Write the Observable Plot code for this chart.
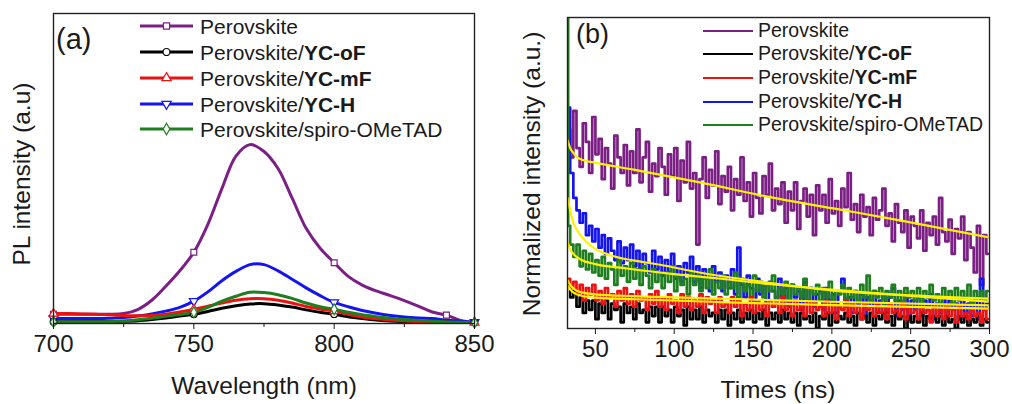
<!DOCTYPE html>
<html><head><meta charset="utf-8">
<script src="https://cdn.jsdelivr.net/npm/d3@7"></script>
<script src="https://cdn.jsdelivr.net/npm/@observablehq/plot@0.6"></script>
<style>
body{margin:0;background:#fff;font-family:"Liberation Sans",Arial,sans-serif;}
#wrap{position:relative;width:1012px;height:404px;overflow:hidden;background:#fff;}
.panel{position:absolute;top:0;}
.lab{position:absolute;color:#1a1a1a;white-space:nowrap;line-height:1;}
.ylab{transform:translate(-50%,-50%) rotate(-90deg);}
.xlab{transform:translate(-50%,-50%);}
.tag{transform:translateY(-50%);}
.row{position:absolute;white-space:nowrap;display:flex;align-items:center;height:24px;color:#1a1a1a;line-height:1;}
.row b{font-weight:bold;}
</style></head>
<body><div id="wrap"></div>
<script>
// ---------- Panel (a): steady-state PL ----------
const seriesNames = ["Perovskite", "Perovskite/YC-oF", "Perovskite/YC-mF", "Perovskite/YC-H", "Perovskite/spiro-OMeTAD"];
const seriesPlain = ["Perovskite", "Perovskite/", "Perovskite/", "Perovskite/", "Perovskite/spiro-OMeTAD"];
const seriesBold = ["", "YC-oF", "YC-mF", "YC-H", ""];
const seriesColors = ["#7b1f84", "#000000", "#ee1111", "#1414ee", "#1f7f1f"];
const seriesSymbols = ["square", "circle", "triangle", "triangle", "diamond"];
const seriesRotate = [0, 0, 0, 180, 0];

const wavelengths = [700,705,710,715,720,725,730,735,740,745,750,755,760,765,770,775,780,785,790,795,800,805,810,815,820,825,830,835,840,845,850];
const plPerovskite = [30,30,30,30,30,32,45,75,120,170,230,320,435,540,577,555,500,405,307,243,196,152,124,105,90,74,56,37,27,10,3];
const plYCoF       = [6,6,6,6,6,7,9,13,18,24,30,39,49,57,63,64,60,53,44,36,30,22,16,11,8,6,5,4,4,3,3];
const plYCmF       = [32,32,31,30,28,26,25,26,30,37,46,56,66,75,80,80,75,66,55,47,40,30,21,15,11,8,6,5,4,3,3];
const plYCH        = [16,16,16,16,17,19,24,31,40,52,72,102,138,168,190,190,170,143,115,90,68,54,42,33,26,21,18,16,11,7,4];
const plSpiro      = [5,5,5,5,6,8,12,17,23,29,36,52,72,88,101,100,93,81,66,54,46,36,28,22,17,13,10,7,5,4,3];
const plSeries = [plPerovskite, plYCoF, plYCmF, plYCH, plSpiro];
const markerWavelengths = [[700,750,800,840],[700,750,800,850],[700,750,800,850],[700,750,800,850],[700,750,800,850]];
const xTicksA = [700, 750, 800, 850];
const xMinorA = [725, 775, 825];

// ---------- Panel (b): TRPL ----------
const timeStart = 33, timeStep = 2; // sampling grid of the decay traces (ns)
const trPerovskite = [
0.64,0.55,0.70,0.58,0.52,0.66,0.60,0.50,0.68,0.56,
0.61,0.48,0.58,0.53,0.45,0.62,0.55,0.50,0.59,0.46,
0.57,0.50,0.64,0.47,0.55,0.60,0.44,0.53,0.49,0.58,
0.52,0.43,0.56,0.49,0.58,0.41,0.54,0.47,0.60,0.45,
0.50,0.27,0.48,0.55,0.42,0.51,0.46,0.57,0.40,0.49,
0.44,0.52,0.38,0.48,0.43,0.55,0.41,0.47,0.36,0.50,
0.42,0.37,0.49,0.43,0.53,0.38,0.45,0.40,0.47,0.34,
0.44,0.38,0.47,0.32,0.41,0.45,0.36,0.43,0.30,0.46,
0.38,0.43,0.34,0.48,0.37,0.41,0.33,0.45,0.39,0.50,
0.35,0.40,0.31,0.43,0.36,0.39,0.30,0.42,0.35,0.38,
0.45,0.33,0.37,0.28,0.40,0.34,0.31,0.38,0.26,0.36,
0.33,0.29,0.38,0.25,0.34,0.30,0.36,0.27,0.42,0.31,
0.28,0.35,0.24,0.32,0.29,0.36,0.22,0.31,0.26,0.18,
0.33,0.14,0.30,0.24];
const trYCoF = [
0.14,0.10,0.12,0.07,0.10,0.05,0.09,0.06,0.09,0.03,
0.08,0.05,0.09,0.03,0.08,0.06,0.07,0.02,0.08,0.05,
0.07,0.03,0.08,0.05,0.06,0.02,0.07,0.04,0.07,0.02,
0.07,0.04,0.06,0.02,0.07,0.04,0.06,0.01,0.07,0.03,
0.06,0.03,0.07,0.02,0.06,0.04,0.05,0.02,0.06,0.03,
0.06,0.01,0.05,0.03,0.06,0.02,0.05,0.03,0.06,0.02,
0.05,0.03,0.06,0.01,0.05,0.03,0.05,0.02,0.06,0.03,
0.05,0.02,0.05,0.01,0.05,0.03,0.04,0.02,0.05,0.00,
0.04,0.03,0.05,0.01,0.05,0.02,0.04,0.03,0.05,0.02,
0.04,0.01,0.05,0.03,0.04,0.02,0.05,0.01,0.04,0.03,
0.05,0.02,0.04,0.01,0.05,0.03,0.04,0.00,0.04,0.02,
0.04,0.02,0.05,0.01,0.04,0.03,0.04,0.02,0.04,0.01,
0.04,0.02,0.03,0.00,0.04,0.02,0.04,0.01,0.03,0.02,
0.04,0.01,0.03,0.02];
const trYCmF = [
0.16,0.13,0.15,0.11,0.14,0.09,0.13,0.11,0.14,0.09,
0.12,0.08,0.13,0.10,0.11,0.07,0.12,0.09,0.13,0.08,
0.11,0.07,0.12,0.09,0.10,0.06,0.11,0.08,0.12,0.07,
0.10,0.06,0.11,0.08,0.09,0.05,0.11,0.07,0.10,0.06,
0.09,0.07,0.11,0.05,0.10,0.08,0.09,0.05,0.10,0.07,
0.08,0.05,0.10,0.07,0.09,0.04,0.08,0.06,0.10,0.05,
0.09,0.06,0.08,0.04,0.09,0.07,0.08,0.05,0.10,0.06,
0.08,0.04,0.09,0.06,0.07,0.04,0.09,0.05,0.08,0.06,
0.07,0.04,0.09,0.05,0.08,0.03,0.07,0.06,0.09,0.04,
0.08,0.05,0.07,0.03,0.08,0.06,0.07,0.04,0.08,0.05,
0.07,0.03,0.08,0.05,0.06,0.04,0.08,0.03,0.07,0.05,
0.06,0.03,0.07,0.05,0.06,0.02,0.07,0.04,0.06,0.03,
0.07,0.04,0.06,0.02,0.07,0.04,0.05,0.03,0.06,0.04,
0.05,0.02,0.06,0.03];
const trYCH = [
0.71,0.50,0.42,0.38,0.34,0.37,0.30,0.33,0.28,0.32,
0.26,0.30,0.24,0.29,0.25,0.22,0.28,0.21,0.26,0.22,
0.27,0.20,0.25,0.19,0.24,0.21,0.18,0.25,0.19,0.23,
0.17,0.22,0.18,0.24,0.16,0.20,0.15,0.21,0.18,0.23,
0.15,0.20,0.13,0.19,0.16,0.12,0.20,0.15,0.18,0.12,
0.17,0.13,0.19,0.11,0.26,0.14,0.10,0.17,0.13,0.09,
0.16,0.11,0.14,0.08,0.15,0.12,0.09,0.16,0.10,0.13,
0.07,0.14,0.10,0.12,0.06,0.15,0.09,0.13,0.07,0.11,
0.12,0.06,0.13,0.09,0.11,0.05,0.12,0.16,0.07,0.10,
0.05,0.12,0.08,0.11,0.04,0.10,0.07,0.12,0.05,0.09,
0.11,0.05,0.10,0.13,0.04,0.09,0.06,0.11,0.03,0.09,
0.06,0.10,0.04,0.09,0.07,0.11,0.03,0.08,0.05,0.10,
0.04,0.09,0.06,0.08,0.03,0.10,0.05,0.08,0.04,0.09,
0.03,0.16,0.06,0.08];
const trSpiro = [
0.33,0.27,0.23,0.27,0.20,0.25,0.19,0.24,0.18,0.22,
0.17,0.23,0.16,0.21,0.19,0.14,0.22,0.17,0.20,0.15,
0.21,0.16,0.19,0.14,0.20,0.17,0.13,0.19,0.15,0.18,
0.13,0.18,0.15,0.20,0.12,0.17,0.14,0.16,0.11,0.18,
0.14,0.17,0.12,0.16,0.13,0.19,0.11,0.15,0.13,0.17,
0.11,0.15,0.13,0.18,0.10,0.16,0.12,0.14,0.10,0.17,
0.12,0.15,0.10,0.14,0.12,0.17,0.10,0.13,0.11,0.15,
0.09,0.14,0.11,0.13,0.10,0.16,0.09,0.13,0.11,0.14,
0.09,0.13,0.10,0.15,0.09,0.12,0.11,0.14,0.08,0.13,
0.10,0.12,0.09,0.14,0.10,0.17,0.09,0.12,0.10,0.13,
0.08,0.12,0.10,0.14,0.09,0.12,0.08,0.13,0.10,0.12,
0.09,0.13,0.08,0.12,0.10,0.14,0.09,0.11,0.08,0.13,
0.10,0.12,0.08,0.13,0.09,0.12,0.10,0.14,0.08,0.12,
0.10,0.12,0.09,0.12];
const spiroLeadT = 32.4, spiroLeadV = 1.0; // initial spike of the spiro trace at t0
const trSeries = [trPerovskite, trYCoF, trYCmF, trYCH, trSpiro];

const fitPerovskiteT = [32.4,34,36,38.5,43,48.7,75,117,159,201,244,300];
const fitPerovskiteV = [0.605,0.58,0.565,0.55,0.54,0.534,0.51,0.469,0.424,0.386,0.347,0.293];
const fitYCoFT = [32.4,34,37,40.6,50,75,129,200,300];
const fitYCoFV = [0.138,0.125,0.113,0.106,0.099,0.094,0.085,0.075,0.064];
const fitYCmFT = [32.4,34,37,40.6,50,75,129,200,300];
const fitYCmFV = [0.155,0.14,0.125,0.117,0.11,0.104,0.096,0.086,0.074];
const fitYCHT = [32.4,34,36,38.5,43,48.7,60,75,91,116,159,201,244,300];
const fitYCHV = [0.42,0.38,0.34,0.315,0.285,0.26,0.235,0.218,0.205,0.18,0.148,0.122,0.108,0.096];
const fitSpiroT = [32.4,34,37,40.6,50,70,100,130,160,200,250,300];
const fitSpiroV = [0.278,0.255,0.235,0.222,0.207,0.193,0.175,0.16,0.143,0.125,0.105,0.086];
const fitT = [fitPerovskiteT, fitYCoFT, fitYCmFT, fitYCHT, fitSpiroT];
const fitV = [fitPerovskiteV, fitYCoFV, fitYCmFV, fitYCHV, fitSpiroV];
const xTicksB = [50, 100, 150, 200, 250, 300];
const xMinorB = [75, 125, 175, 225, 275];

const FONT = '"Liberation Sans", Arial, sans-serif';
const wrap = document.getElementById("wrap");

// ----- build panel (a)
const rowsA = [];
plSeries.forEach((vals, i) => vals.forEach((v, j) => rowsA.push({s: i, x: wavelengths[j], y: v})));
const orderA = [0, 3, 1, 2, 4];
const marksA = [];
orderA.forEach(i => {
  const d = rowsA.filter(r => r.s === i);
  marksA.push(Plot.line(d, {x: "x", y: "y", stroke: seriesColors[i], strokeWidth: 3, curve: "catmull-rom", clip: true}));
});
orderA.forEach(i => {
  const d = rowsA.filter(r => r.s === i && markerWavelengths[i].includes(r.x));
  marksA.push(Plot.dot(d, {x: "x", y: "y", symbol: seriesSymbols[i], r: 3.3, fill: "white", stroke: seriesColors[i], strokeWidth: 1.2, rotate: seriesRotate[i]}));
});
const plotA = Plot.plot({
  width: 506, height: 404,
  marginLeft: 53, marginRight: 32, marginTop: 13, marginBottom: 81,
  style: {fontFamily: FONT, color: "#1a1a1a", background: "transparent", overflow: "visible"},
  x: {domain: [700, 850]},
  y: {domain: [0, 1000], axis: null},
  marks: [
    ...marksA,
    Plot.frame({stroke: "#222", strokeWidth: 1.4}),
    Plot.axisX({ticks: xTicksA, tickSize: 6, tickPadding: 5, fontSize: 24, label: null, tickFormat: d => String(d)}),
    Plot.axisX({ticks: xMinorA, tickSize: 4, tickFormat: () => "", label: null})
  ]
});
plotA.classList.add("panel");
plotA.style.left = "0px";
wrap.appendChild(plotA);

// ----- build panel (b)
const rowsB = [];
trSeries.forEach((vals, i) => {
  if (i === 4) rowsB.push({s: i, x: spiroLeadT, y: spiroLeadV});
  vals.forEach((v, j) => rowsB.push({s: i, x: timeStart + j * timeStep, y: v}));
});
const fitRows = [];
fitT.forEach((ts, i) => ts.forEach((t, j) => fitRows.push({s: i, x: t, y: fitV[i][j]})));
const orderB = [0, 3, 4, 1, 2];
const marksB = [];
orderB.forEach(i => {
  marksB.push(Plot.line(rowsB.filter(r => r.s === i), {x: "x", y: "y", stroke: seriesColors[i], strokeWidth: 2.7, curve: "step", clip: true}));
});
[0, 3, 4, 2, 1].forEach(i => {
  marksB.push(Plot.line(fitRows.filter(r => r.s === i), {x: "x", y: "y", stroke: "#fff200", strokeWidth: 2.2, curve: "monotone-x", clip: true}));
});
const plotB = Plot.plot({
  width: 506, height: 404,
  marginLeft: 61, marginRight: 23, marginTop: 17, marginBottom: 76,
  style: {fontFamily: FONT, color: "#1a1a1a", background: "transparent", overflow: "visible"},
  x: {domain: [32.3, 300]},
  y: {domain: [0, 1], axis: null},
  marks: [
    ...marksB,
    Plot.frame({stroke: "#222", strokeWidth: 1.4}),
    Plot.axisX({ticks: xTicksB, tickSize: 6, tickPadding: 5, fontSize: 24, label: null, tickFormat: d => String(d)}),
    Plot.axisX({ticks: xMinorB, tickSize: 4, tickFormat: () => "", label: null})
  ]
});
plotB.classList.add("panel");
plotB.style.left = "506px";
wrap.appendChild(plotB);

// ----- text labels
function addLabel(text, x, y, size, cls) {
  const el = document.createElement("div");
  el.className = "lab " + cls;
  el.textContent = text;
  el.style.left = x + "px";
  el.style.top = y + "px";
  el.style.fontSize = size + "px";
  wrap.appendChild(el);
}
addLabel("Wavelength (nm)", 264, 386, 24.5, "xlab");
addLabel("PL intensity (a.u)", 22, 174, 24.5, "ylab");
addLabel("Times (ns)", 778, 390, 24.5, "xlab");
addLabel("Normalized intensity (a.u.)", 532, 174, 24.5, "ylab");
addLabel("(a)", 56, 39, 29, "tag");
addLabel("(b)", 576, 34, 27, "tag");

// ----- legends
function addLegend(x0, sw, textX, ys, size, lw, withMarkers) {
  seriesNames.forEach((name, i) => {
    const row = document.createElement("div");
    row.className = "row";
    row.style.left = x0 + "px";
    row.style.top = (ys[i] - 12) + "px";
    row.style.fontSize = size + "px";
    const svg = d3.create("svg").attr("width", sw).attr("height", 24).style("flex", "none");
    svg.append("line").attr("x1", 0).attr("x2", sw).attr("y1", 12).attr("y2", 12)
      .attr("stroke", seriesColors[i]).attr("stroke-width", lw);
    if (withMarkers) {
      const typeMap = {square: d3.symbolSquare, circle: d3.symbolCircle, triangle: d3.symbolTriangle, diamond: d3.symbolDiamond};
      svg.append("path").attr("d", d3.symbol(typeMap[seriesSymbols[i]], 38)())
        .attr("transform", `translate(${sw / 2},12) rotate(${seriesRotate[i]})`)
        .attr("fill", "white").attr("stroke", seriesColors[i]).attr("stroke-width", 1.2);
    }
    row.appendChild(svg.node());
    const span = document.createElement("span");
    span.style.marginLeft = (textX - x0 - sw) + "px";
    span.appendChild(document.createTextNode(seriesPlain[i]));
    if (seriesBold[i]) {
      const b = document.createElement("b");
      b.textContent = seriesBold[i];
      span.appendChild(b);
    }
    row.appendChild(span);
    wrap.appendChild(row);
  });
}
addLegend(140, 53, 200, [26, 52, 78, 104, 129], 21, 3, true);
addLegend(703, 50, 758, [31, 54, 78, 102, 125], 19.5, 2, false);
</script>
</body></html>
